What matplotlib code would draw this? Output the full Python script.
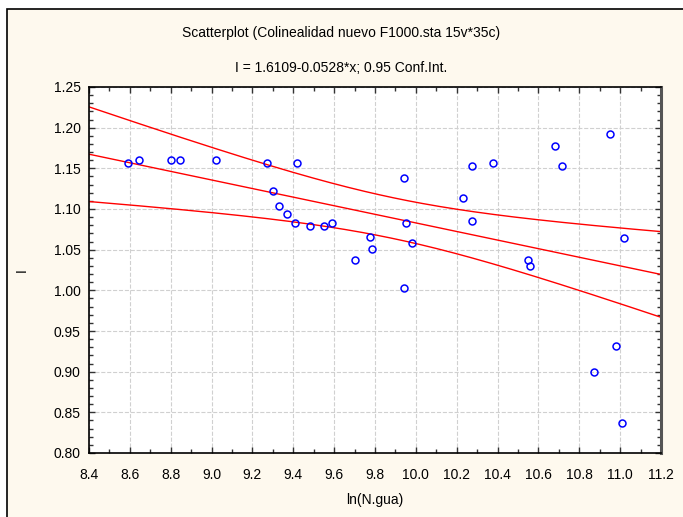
import matplotlib
matplotlib.use("Agg")
import matplotlib.pyplot as plt
from matplotlib.patches import Rectangle
from matplotlib.ticker import MultipleLocator, FormatStrFormatter
import numpy as np

plt.rcParams['font.family'] = ['Liberation Sans', 'DejaVu Sans']

# data
ln_ngua = [8.59, 8.645, 8.80, 8.845, 9.02, 9.27, 9.42, 9.30, 9.33, 9.37,
           9.41, 9.48, 9.55, 9.59, 9.70, 9.775, 9.785, 9.94, 9.94, 9.95,
           9.98, 10.23, 10.275, 10.275, 10.38, 10.55, 10.56, 10.68, 10.715,
           10.95, 10.98, 10.87, 11.02, 11.01]
i_vals = [1.157, 1.160, 1.160, 1.160, 1.160, 1.157, 1.157, 1.122, 1.104, 1.094,
          1.083, 1.079, 1.079, 1.083, 1.037, 1.066, 1.051, 1.138, 1.003, 1.083,
          1.058, 1.114, 1.153, 1.085, 1.157, 1.037, 1.030, 1.177, 1.153,
          1.192, 0.932, 0.900, 1.064, 0.837]
intercept = 1.6109
slope = -0.0528
t_crit = 2.037

x = np.array(ln_ngua)
y = np.array(i_vals)
n = len(x)
resid = y - (intercept + slope * x)
s = np.sqrt(np.sum(resid ** 2) / (n - 2))
sxx = np.sum((x - x.mean()) ** 2)

xs = np.linspace(8.4, 11.2, 200)
fit = intercept + slope * xs
half = t_crit * s * np.sqrt(1.0 / n + (xs - x.mean()) ** 2 / sxx)

cream = '#FEF9EE'
fig = plt.figure(figsize=(6.83, 5.17), dpi=100, facecolor='white')
fig.patches.append(Rectangle((7 / 683, -0.01), 1.0, 1 - 9 / 517 + 0.01,
                             transform=fig.transFigure, facecolor=cream,
                             edgecolor='black', linewidth=1.2, zorder=-10))

ax = fig.add_axes([89 / 683, 1 - 453 / 517, (661 - 89) / 683, (453 - 87) / 517])
ax.set_facecolor('white')

ax.plot(xs, fit, color='#FF0000', linewidth=1)
ax.plot(xs, fit + half, color='#FF0000', linewidth=1)
ax.plot(xs, fit - half, color='#FF0000', linewidth=1)
ax.plot(x, y, 'o', markerfacecolor='none', markeredgecolor='#0000FF',
        markersize=5, markeredgewidth=1.1, linestyle='none', zorder=5)

ax.set_xlim(8.4, 11.2)
ax.set_ylim(0.80, 1.25)
ax.xaxis.set_major_locator(MultipleLocator(0.2))
ax.xaxis.set_minor_locator(MultipleLocator(0.1))
ax.yaxis.set_major_locator(MultipleLocator(0.05))
ax.yaxis.set_minor_locator(MultipleLocator(0.01))
ax.xaxis.set_major_formatter(FormatStrFormatter('%.1f'))
ax.yaxis.set_major_formatter(FormatStrFormatter('%.2f'))
ax.tick_params(which='both', direction='in', top=True, right=True,
               labelsize=10, color='#333333')
ax.tick_params(which='major', length=4, width=1)
ax.tick_params(which='minor', length=3, width=1)
ax.tick_params(axis='x', which='major', pad=11)
ax.tick_params(axis='y', which='major', pad=6)
ax.grid(True, which='major', linestyle='--', color='#D0D0D0', linewidth=0.8)
ax.set_axisbelow(True)
for side in ['left', 'bottom', 'top']:
    ax.spines[side].set_linewidth(1.2)
    ax.spines[side].set_color('black')
ax.spines['right'].set_linewidth(2.2)
ax.spines['right'].set_color('#555555')

ax.set_xlabel('ln(N.gua)', fontsize=10, labelpad=8)
ax.set_ylabel('I', fontsize=10)
ax.yaxis.set_label_coords(-0.105, 0.5)

fig.text(0.5, 1 - 33 / 517, 'Scatterplot (Colinealidad nuevo F1000.sta 15v*35c)',
         ha='center', va='center', fontsize=10)
fig.text(0.5, 1 - 68 / 517, 'I = 1.6109-0.0528*x; 0.95 Conf.Int.',
         ha='center', va='center', fontsize=10)

fig.savefig('out.png', dpi=100, facecolor=fig.get_facecolor())
